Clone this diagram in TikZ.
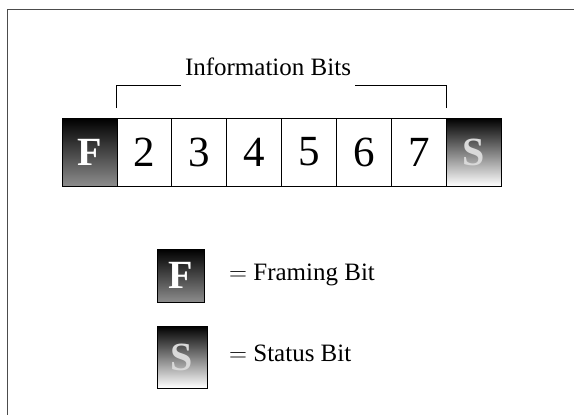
\documentclass[tikz,border=0pt]{standalone}
\usepackage{fontspec}
\setmainfont{Liberation Serif}
\usetikzlibrary{positioning,calc}
\tikzset{
bitcell/.style={draw=black, line width=0.8pt, outer sep=0pt, inner sep=0pt, minimum width=54.9pt, minimum height=68pt, font=\fontsize{43}{48}\selectfont},
framebit/.style={bitcell, top color=black, bottom color=black!45, text=white, font=\fontsize{40}{44}\selectfont\bfseries},
statusbit/.style={bitcell, top color=black, bottom color=white, middle color=black!50, text=black!15, font=\fontsize{40}{44}\selectfont\bfseries},
keytext/.style={font=\fontsize{25}{30}\selectfont, inner sep=0pt},
bracketline/.style={draw=black, line width=0.9pt},
framerule/.style={draw=black!70, line width=0.9pt}
}
\begin{document}
\begin{tikzpicture}[x=1pt, y=-1pt]
  \useasboundingbox (0,0) rectangle (574,415);
  % outer rule
  \draw[framerule] (574,9) -- (7,9) -- (7,415);
  % frame of bits
  \node[framebit, anchor=north west] (bf) at (62,118) {F};
  \foreach \n [remember=\n as \prev (initially f)] in {2,...,7}
    \node[bitcell, right=0pt of b\prev] (b\n) {\n};
  \node[statusbit, right=0pt of b7] (bs) {S};
  % bracket over the information bits
  \node[keytext, inner xsep=4pt] (info) at (268,67) {Information Bits};
  \coordinate (ltop) at ($(b2.north west)+(0,-33)$);
  \coordinate (rtop) at ($(bs.north west)+(0,-33)$);
  \draw[bracketline] ($(b2.north west)+(0,-10)$) -- (ltop) -- (ltop -| info.west);
  \draw[bracketline] ($(bs.north west)+(0,-10)$) -- (rtop) -- (rtop -| info.east);
  % key
  \node[framebit, minimum width=47pt, minimum height=53pt, anchor=north west] (keyf) at (157,249) {F};
  \node[statusbit, minimum width=50pt, minimum height=62pt, anchor=north west] (keys) at (157,326) {S};
  \node[keytext, anchor=west] (keyftext) at (229,275) {$=$ Framing Bit};
  \node[keytext, anchor=west] (keystext) at (229,353) {$=$ Status Bit};
\end{tikzpicture}
\end{document}
